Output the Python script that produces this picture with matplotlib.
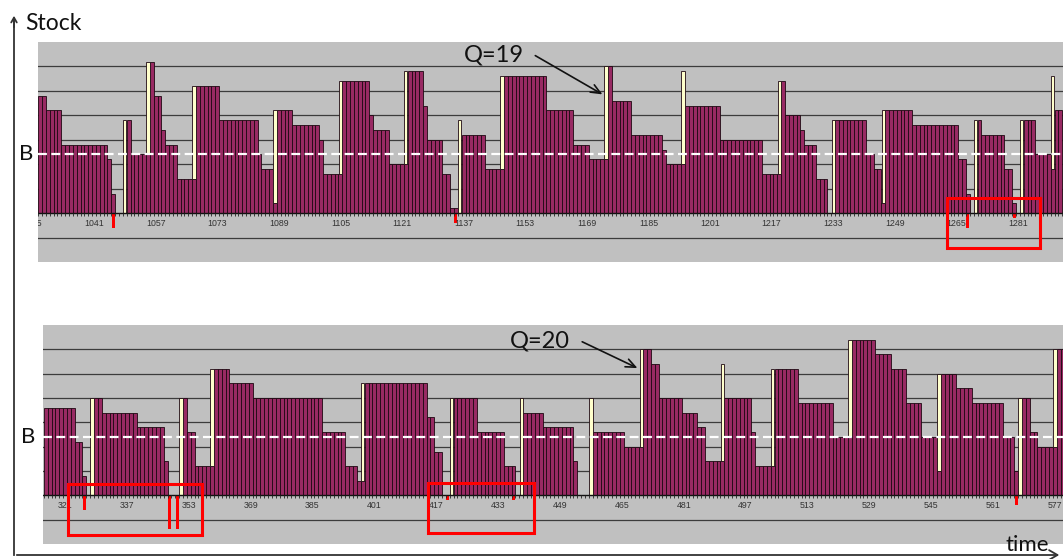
import numpy as np
import matplotlib
matplotlib.use("Agg")
import matplotlib.pyplot as plt
from matplotlib.patches import Rectangle

# upper run, lot size Q = 19 (stock level held for a number of days)
TOP_FIRST_DAY = 1027
top_levels = [24, 21, 14, 11, 4, 0, 19, 12, 31, 24, 17, 14, 7, 26, 19, 12, 9, 2, 21, 18,
              15, 8, 27, 20, 17, 10, 29, 22, 15, 8, 1, 0, 16, 9, 28, 21, 14, 11, 30, 23,
              16, 13, 10, 22, 15, 8, 27, 20, 17, 14, 7, 0, 19, 12, 9, 2, 21, 18, 11, 4,
              0, 19, 16, 9, 2, 0, 19, 12, 9, 21]
top_runs = [2, 4, 12, 1, 1, 3, 1, 5, 1, 2, 1, 3, 5, 6, 10, 1, 3, 1, 4, 7,
            1, 5, 7, 1, 4, 5, 4, 1, 4, 2, 2, 1, 6, 5, 11, 7, 4, 5, 1, 5,
            8, 1, 5, 9, 11, 5, 1, 4, 1, 3, 3, 2, 8, 2, 2, 1, 7, 12, 2, 1,
            2, 1, 6, 2, 1, 2, 3, 4, 1, 2]
top_orders = [1049, 1055, 1067, 1088, 1105, 1122, 1136, 1147, 1174, 1194,
              1219, 1233, 1246, 1270, 1282, 1290]
top_short_days = [1046, 1135, 1268, 1280]
top_short = [-3, -2, -3, -1]
TOP_Q = 19

# lower run, lot size Q = 20
BOT_FIRST_DAY = 316
bot_levels = [18, 11, 4, 0, 20, 17, 14, 7, 0, 20, 13, 6, 26, 23, 20, 13, 6, 3, 23, 16,
              9, 0, 20, 13, 6, 0, 17, 14, 7, 0, 13, 10, 30, 27, 20, 17, 14, 7, 20, 13,
              6, 26, 19, 12, 32, 29, 26, 19, 12, 5, 25, 22, 19, 12, 5, 0, 20, 13, 10, 30]
bot_runs = [8, 2, 1, 2, 2, 9, 7, 1, 4, 1, 2, 5, 4, 6, 18, 6, 3, 2, 16, 2,
            2, 3, 6, 7, 3, 2, 5, 8, 1, 4, 8, 5, 2, 2, 6, 4, 2, 5, 7, 1,
            5, 6, 9, 5, 6, 4, 4, 4, 4, 1, 4, 4, 8, 3, 1, 1, 2, 2, 5, 2]
bot_orders = [328, 351, 359, 398, 421, 439, 457, 470, 491, 504, 524, 547, 568, 577]
bot_short_days = [326, 348, 350, 420, 437, 567]
bot_short = [-3, -7, -7, -1, -1, -2]
BOT_Q = 20

B_LEVEL = 12

GRAY = "#c0c0c0"
GRID = "#3c3c3c"
PURPLE = "#982a63"
EDGE = "#1e0812"
CREAM = "#ffffcc"
RED = "#ff0000"
BIG_FONT = "Lato"


def draw_panel(ax, first_day, levels, runs, orders, short_days, short, q, xlim, label_from):
    stock = np.repeat(levels, runs)
    days = np.arange(first_day, first_day + len(stock))

    ax.set_facecolor(GRAY)
    for y in (-5, 5, 10, 15, 20, 25, 30):
        ax.axhline(y, color=GRID, lw=0.9, zorder=1)

    ax.bar(days, stock, width=1.0, color=PURPLE, edgecolor=EDGE, linewidth=0.6, zorder=2)
    # replenishment sits on top of the stock left at the arrival day
    base = stock[np.searchsorted(days, orders)]
    ax.bar(orders, [q] * len(orders), bottom=base, width=0.85, color=CREAM,
           edgecolor=EDGE, linewidth=0.6, zorder=3)
    ax.bar(short_days, short, width=0.75, color=RED, linewidth=0, zorder=3)

    # category axis at zero with a tick per day
    ax.axhline(0, color="#111111", lw=1.0, zorder=4)
    edges = np.arange(int(xlim[0]), int(xlim[1]) + 1) + 0.5
    ax.vlines(edges, -0.65, 0, color="#222222", lw=0.6, zorder=4)
    for d in range(label_from, int(xlim[1]) + 1, 16):
        ax.text(d, -2.1, str(d), fontsize=6.3, ha="center", va="center",
                color="#333333", family="Liberation Sans", clip_on=True, zorder=4)

    ax.axhline(B_LEVEL, color="white", lw=1.6, ls=(0, (4, 2)), zorder=5)

    ax.set_xlim(*xlim)
    ax.set_ylim(-10, 35)
    ax.set_xticks([])
    ax.set_yticks([])
    for s in ax.spines.values():
        s.set_visible(False)


fig = plt.figure(figsize=(10.63, 5.59), dpi=100)
fig.patch.set_facecolor("white")

ax_top = fig.add_axes([38 / 1063, 1 - 262 / 559, 1025 / 1063, 220 / 559])
draw_panel(ax_top, TOP_FIRST_DAY, top_levels, top_runs, top_orders,
           top_short_days, top_short, TOP_Q, (1026.45, 1292.7), 1025)

ax_bot = fig.add_axes([43 / 1063, 1 - 544 / 559, 1020 / 1063, 219 / 559])
draw_panel(ax_bot, BOT_FIRST_DAY, bot_levels, bot_runs, bot_orders,
           bot_short_days, bot_short, BOT_Q, (315.3, 579.1), 321)

for ax, xoff in ((ax_top, -0.0117), (ax_bot, -0.0142)):
    ax.text(xoff, B_LEVEL, "B", transform=ax.get_yaxis_transform(), fontsize=16,
            family=BIG_FONT, ha="center", va="center", color="#111111", clip_on=False)

# lot size callouts
arrow = dict(arrowstyle="->,head_length=0.7,head_width=0.3", lw=1.2, color="#111111")
ax_top.text(1144.9, 32.3, "Q=19", fontsize=17, family=BIG_FONT, ha="center", va="center",
            color="#111111", zorder=7)
ax_top.annotate("", xy=(1173.7, 24.0), xytext=(1155.0, 32.5), arrowprops=arrow, zorder=7)
ax_bot.text(443.8, 31.7, "Q=20", fontsize=17, family=BIG_FONT, ha="center", va="center",
            color="#111111", zorder=7)
ax_bot.annotate("", xy=(469.7, 25.9), xytext=(454.1, 31.8), arrowprops=arrow, zorder=7)

# highlighted shortage windows
for ax, (x0, y0, x1, y1) in ((ax_top, (1262.5, -7.1, 1286.7, 3.15)),
                             (ax_bot, (321.8, -8.1, 356.5, 2.24)),
                             (ax_bot, (414.9, -7.8, 442.2, 2.45))):
    ax.add_patch(Rectangle((x0, y0), x1 - x0, y1 - y0, fill=False, edgecolor=RED,
                           lw=2.2, zorder=8, clip_on=False))

# pixel-space layer on top for the outer axes arrows and labels
frame = fig.add_axes([0, 0, 1, 1])
frame.set_xlim(0, 1063)
frame.set_ylim(559, 0)
frame.axis("off")
frame.plot([14, 14], [555, 20], color="#333333", lw=1.3)
frame.annotate("", xy=(14, 13), xytext=(14, 30),
               arrowprops=dict(arrowstyle="->,head_length=0.35,head_width=0.2", lw=1.3, color="#333333"))
frame.annotate("", xy=(1062, 555), xytext=(14, 555),
               arrowprops=dict(arrowstyle="->,head_length=0.6,head_width=0.35", lw=1.3, color="#333333"))
frame.text(25, 23, "Stock", fontsize=16.5, family=BIG_FONT, ha="left", va="center", color="#111111")
frame.text(1005, 551, "time", fontsize=16, family=BIG_FONT, ha="left", va="baseline", color="#111111")

fig.savefig("out.png", dpi=100)
